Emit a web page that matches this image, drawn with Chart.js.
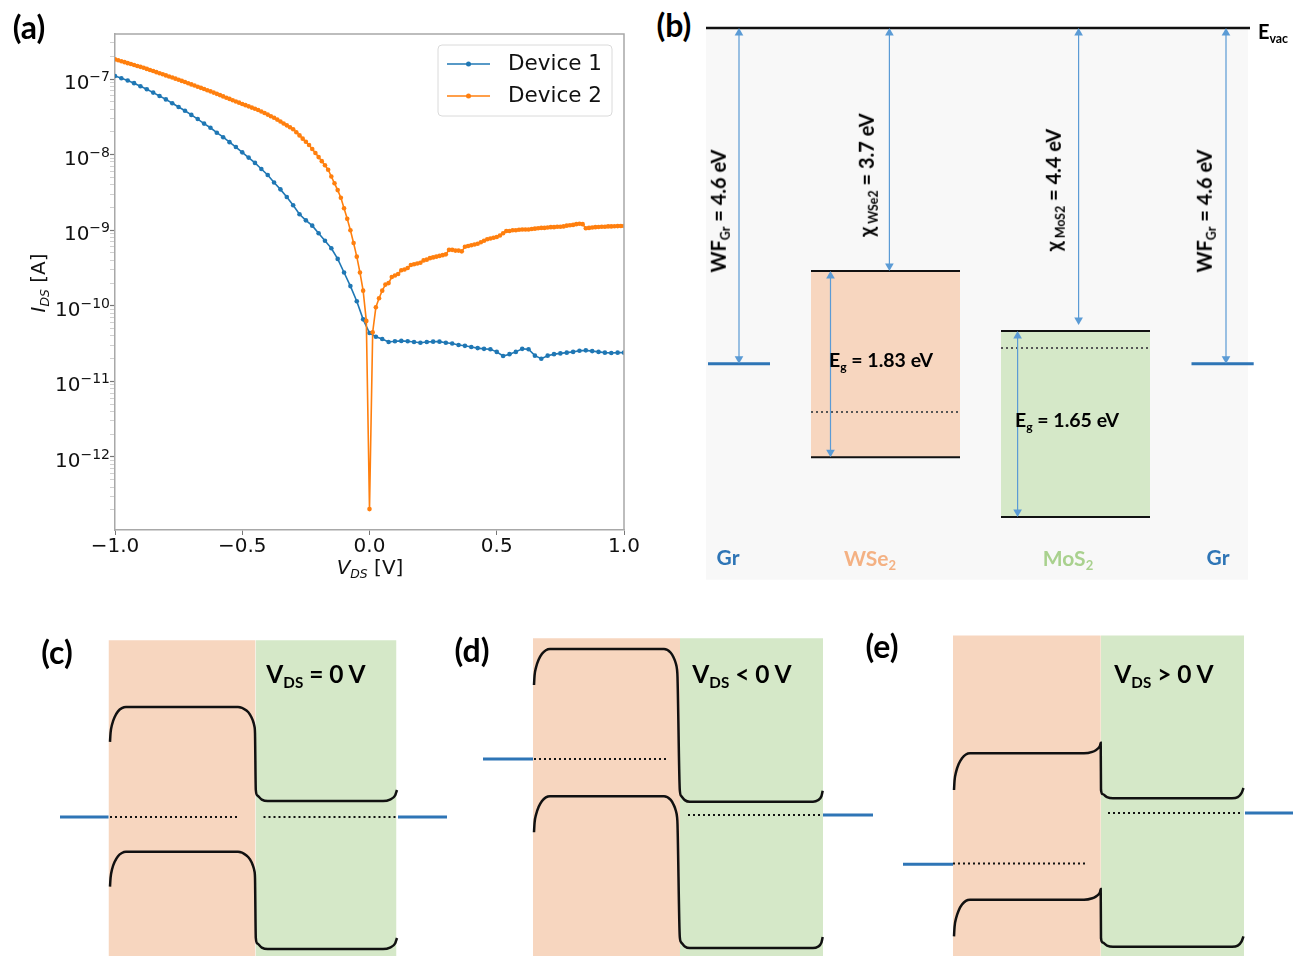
<!DOCTYPE html>
<html>
<head>
<meta charset="utf-8">
<script src="https://cdn.jsdelivr.net/npm/chart.js@4.4.1/dist/chart.umd.min.js"></script>
<style>
  body { margin: 0; background: #fff; }
  #page { position: relative; width: 1298px; height: 956px; overflow: hidden; background: #fff; }
  canvas { position: absolute; }
  .t { position: absolute; white-space: nowrap; line-height: 1; transform: translate(-50%, -50%); }
  .rot { transform: translate(-50%, -50%) rotate(-90deg); }
  .b { font-family: Lato, "Open Sans", sans-serif; font-weight: 700; color: #000; }
  .m { font-family: "DejaVu Sans", sans-serif; font-size: 20px; color: #111; }
  sub { font-size: 62%; position: relative; top: 0.3em; vertical-align: baseline; }
</style>
</head>
<body>
<div id="page">
  <canvas id="ivChart" width="650" height="590" style="left:0;top:0;width:650px;height:590px"></canvas>
  <canvas id="levelChart" width="600" height="572" style="left:700px;top:18px;width:600px;height:572px"></canvas>
  <canvas id="bandC" width="420" height="336" style="left:40px;top:620px;width:420px;height:336px"></canvas>
  <canvas id="bandD" width="420" height="336" style="left:470px;top:620px;width:420px;height:336px"></canvas>
  <canvas id="bandE" width="408" height="336" style="left:890px;top:620px;width:408px;height:336px"></canvas>
</div>
<script>
// === (a) I-V DATA : log10(I_DS / A) ===
const vStart = -1.0;
const vStep1 = 0.025;   // Device 1 sweep step [V]
const vStep2 = 0.0125;  // Device 2 sweep step [V]

const logI1 = [
  -6.96, -6.99, -7.02, -7.055, -7.095, -7.135, -7.18, -7.225, -7.27, -7.32,
  -7.37, -7.42, -7.475, -7.53, -7.59, -7.645, -7.71, -7.77, -7.835, -7.90,
  -7.97, -8.04, -8.11, -8.19, -8.27, -8.37, -8.46, -8.56, -8.67, -8.79,
  -8.87, -8.94, -9.04, -9.14, -9.24, -9.38, -9.56, -9.74, -9.94, -10.18,
  -10.36,
  -10.41, -10.44, -10.48, -10.47, -10.465, -10.47, -10.48, -10.49, -10.48, -10.475,
  -10.475, -10.49, -10.50, -10.52, -10.53, -10.545, -10.56, -10.57, -10.575, -10.61,
  -10.665, -10.64, -10.61, -10.57, -10.575, -10.66, -10.70, -10.66, -10.64, -10.63,
  -10.62, -10.61, -10.595, -10.59, -10.60, -10.61, -10.62, -10.625, -10.62, -10.62
];

const logI2 = [
  -6.740, -6.752, -6.765, -6.777, -6.790, -6.802, -6.814, -6.827, -6.839, -6.852,
  -6.866, -6.880, -6.895, -6.909, -6.923, -6.938, -6.952, -6.966, -6.981, -6.995,
  -7.010, -7.025, -7.040, -7.056, -7.071, -7.086, -7.102, -7.117, -7.132, -7.148,
  -7.163, -7.180, -7.196, -7.213, -7.230, -7.247, -7.263, -7.280, -7.297, -7.313,
  -7.330, -7.346, -7.362, -7.378, -7.394, -7.410, -7.429, -7.450, -7.471, -7.492,
  -7.513, -7.537, -7.562, -7.588, -7.613, -7.639, -7.665, -7.704, -7.746, -7.789,
  -7.831, -7.874, -7.925, -7.979, -8.033, -8.087, -8.14, -8.20, -8.29, -8.38,
  -8.47, -8.57, -8.71, -8.85, -9.00, -9.17, -9.35, -9.56, -9.80, -10.20,
  -12.69,
  -10.35, -10.02, -9.90, -9.80, -9.72, -9.70, -9.62, -9.60, -9.58, -9.53,
  -9.52, -9.50, -9.46, -9.45, -9.44, -9.43, -9.40, -9.39, -9.37, -9.36,
  -9.35, -9.34, -9.33, -9.32, -9.26, -9.26, -9.27, -9.27, -9.28, -9.22,
  -9.21, -9.20, -9.19, -9.18, -9.16, -9.14, -9.12, -9.11, -9.10, -9.09,
  -9.07, -9.04, -9.01, -9.01, -9.00, -9.00, -8.995, -8.99, -8.99, -8.99,
  -8.985, -8.98, -8.975, -8.97, -8.97, -8.965, -8.96, -8.96, -8.955, -8.955,
  -8.95, -8.94, -8.935, -8.93, -8.92, -8.915, -8.92, -8.975, -8.97, -8.965,
  -8.96, -8.958, -8.955, -8.955, -8.95, -8.95, -8.948, -8.946, -8.945, -8.944
];

const xTicks = [-1, -0.5, 0, 0.5, 1];
const xTickLabels = ["\u22121.0", "\u22120.5", "0.0", "0.5", "1.0"];
const yTickExps = [-12, -11, -10, -9, -8, -7];
const yTickLabels = ["\u221212", "\u221211", "\u221210", "\u22129", "\u22128", "\u22127"]; // exponents of 10

// === (b) BAND ALIGNMENT (labels) and drawn depths below E_vac (schematic) ===
const wfGr = 4.6, chiWSe2 = 3.7, chiMoS2 = 4.4, egWSe2 = 1.83, egMoS2 = 1.65;
const wse2Depth = [3.33, 5.88, 5.26];   // CB, VB, EF as drawn
const mos2Depth = [4.15, 6.70, 4.385];  // CB, VB, EF as drawn
const grDepth = 4.6;

// === (c)(d)(e) BAND DIAGRAMS under bias (eV, relative to right contact EF) ===
const biasText = ["V<sub>DS</sub> = 0 V", "V<sub>DS</sub> &lt; 0 V", "V<sub>DS</sub> &gt; 0 V"];
const leftContactEF = [0, 0.70, -0.64];
const wse2QuasiEF = [0, 0.70, -0.63];
const mos2QuasiEF = [0, 0, 0];
const gapWSe2 = [1.81, 1.84, 1.83];
const gapMoS2 = [1.85, 1.83, 1.855];
// conduction-band edge across Gr | WSe2 | MoS2 | Gr (position a.u., energy eV)
const cbX = [
  [1.5, 2.05, 3.64, 6.19, 9.5, 13.36, 17.5, 129.5, 138, 141.5, 144.2, 145.9, 146.5, 147.3, 148.9, 153.3, 159.3, 274.5, 281.5, 286.6, 288.5],
  [1, 1.55, 3.14, 5.69, 9, 12.86, 17, 131, 137.75, 140.5, 142.7, 144.04, 144.5, 146.8, 148.14, 151.8, 156.8, 280, 284.85, 288.4, 289.7],
  [1, 1.55, 3.14, 5.69, 9, 12.86, 17, 131, 139.35, 142.8, 145.5, 147.1, 147.7, 148.0, 149.6, 154, 160, 279, 284.75, 288.46, 290.5]
];
const cbE = [
  [0.94, 1.05, 1.16, 1.25, 1.32, 1.36, 1.375, 1.375, 1.33, 1.28, 1.21, 1.134, 1.05, 0.34, 0.269, 0.218, 0.20, 0.20, 0.218, 0.269, 0.3375],
  [1.625, 1.742, 1.85, 1.943, 2.015, 2.06, 2.075, 2.075, 2.028, 1.972, 1.90, 1.816, 1.725, 0.3125, 0.239, 0.186, 0.166, 0.166, 0.183, 0.235, 0.304],
  [0.2875, 0.406, 0.517, 0.612, 0.685, 0.731, 0.746, 0.746, 0.764, 0.785, 0.812, 0.844, 0.879, 0.2875, 0.236, 0.198, 0.184, 0.184, 0.198, 0.248, 0.313]
];

// --- colours ---
const blue = "#1f77b4", orange = "#ff7f0e";
const frameColor = "#a8a8a8";
const grBlue = "#2e75b6", arrowBlue = "#5b9bd5";
const peach = "#f7d6bf", green = "#d5e8c8";

const page = document.getElementById("page");
function addLabel(html, x, y, cls, style) {
  const d = document.createElement("div");
  d.className = "t " + cls;
  d.innerHTML = html;
  d.style.left = x + "px";
  d.style.top = y + "px";
  if (style) Object.assign(d.style, style);
  page.appendChild(d);
}

// ================= (a) =================
function toPoints(logs, step) {
  return logs.map((l, i) => ({ x: vStart + i * step, y: Math.pow(10, l) }));
}

const ivFrame = {
  id: "ivFrame",
  afterDraw(chart) {
    const { ctx, chartArea: a } = chart;
    ctx.save();
    ctx.strokeStyle = frameColor;
    ctx.lineWidth = 1.5;
    ctx.beginPath();
    ctx.moveTo(a.left, a.top);
    ctx.lineTo(a.right, a.top);
    ctx.lineTo(a.right, a.bottom);
    ctx.stroke();

    // y tick labels as 10 with a raised exponent
    const ys = chart.scales.y;
    ctx.fillStyle = "#111";
    ctx.textBaseline = "alphabetic";
    ctx.textAlign = "left";
    yTickExps.forEach((e, i) => {
      const y = ys.getPixelForValue(Math.pow(10, e));
      ctx.font = '14px "DejaVu Sans"';
      const w2 = ctx.measureText(yTickLabels[i]).width;
      ctx.font = '20px "DejaVu Sans"';
      const w1 = ctx.measureText("10").width;
      const x0 = a.left - 5 - w2 - w1;
      ctx.fillText("10", x0, y + 10);
      ctx.font = '14px "DejaVu Sans"';
      ctx.fillText(yTickLabels[i], x0 + w1, y + 2);
    });

    // legend box, matplotlib style
    const bx = a.right - 186, by = a.top + 11, bw = 174, bh = 71;
    ctx.fillStyle = "rgba(255,255,255,0.85)";
    ctx.strokeStyle = "#dadada";
    ctx.lineWidth = 1;
    ctx.beginPath();
    if (ctx.roundRect) ctx.roundRect(bx, by, bw, bh, 4); else ctx.rect(bx, by, bw, bh);
    ctx.fill();
    ctx.stroke();
    chart.data.datasets.forEach((ds, i) => {
      const y = by + 19 + 32 * i;
      ctx.strokeStyle = ds.borderColor;
      ctx.lineWidth = 1.6;
      ctx.beginPath();
      ctx.moveTo(bx + 9, y);
      ctx.lineTo(bx + 52, y);
      ctx.stroke();
      ctx.fillStyle = ds.borderColor;
      ctx.beginPath();
      ctx.arc(bx + 30.5, y, 2.5, 0, Math.PI * 2);
      ctx.fill();
      ctx.fillStyle = "#111";
      ctx.font = '21.5px "DejaVu Sans"';
      ctx.textBaseline = "middle";
      ctx.textAlign = "left";
      ctx.fillText(ds.label, bx + 70, y);
    });
    ctx.restore();
  }
};

new Chart(document.getElementById("ivChart"), {
  type: "line",
  data: {
    datasets: [
      {
        label: "Device 1", data: toPoints(logI1, vStep1), order: 2,
        borderColor: blue, backgroundColor: blue, borderWidth: 1.6,
        pointRadius: 2.3, pointBorderWidth: 0, pointBackgroundColor: blue, tension: 0
      },
      {
        label: "Device 2", data: toPoints(logI2, vStep2), order: 1,
        borderColor: orange, backgroundColor: orange, borderWidth: 1.6,
        pointRadius: 2.3, pointBorderWidth: 0, pointBackgroundColor: orange, tension: 0
      }
    ]
  },
  options: {
    responsive: false,
    animation: false,
    layout: { autoPadding: false, padding: { top: 34, right: 26, left: 0, bottom: 0 } },
    plugins: { legend: { display: false }, tooltip: { enabled: false } },
    scales: {
      x: {
        type: "linear", min: -1, max: 1,
        afterBuildTicks(s) { s.ticks = xTicks.map(v => ({ value: v })); },
        ticks: {
          autoSkip: false, maxRotation: 0, padding: 0, color: "#111",
          font: { family: "DejaVu Sans", size: 20 },
          callback(v, i) { return xTickLabels[i]; }
        },
        grid: { drawOnChartArea: false, tickLength: 5, tickColor: "#777" },
        border: { color: frameColor, width: 1.5 },
        afterFit(s) { s.height = 60; }
      },
      y: {
        type: "logarithmic", min: 1.08e-13, max: 3.94e-7,
        afterBuildTicks(s) {
          const t = [];
          for (let e = -13; e <= -7; e++) {
            for (let m = 1; m < 10; m++) {
              const v = m * Math.pow(10, e);
              if (v >= s.min && v <= s.max) t.push({ value: v, major: m === 1 });
            }
          }
          s.ticks = t;
        },
        ticks: { display: false },
        grid: {
          drawOnChartArea: false, tickLength: 5,
          tickColor: c => (c.tick && c.tick.major) ? "#777" : "#c4c4c4",
          tickWidth: c => (c.tick && c.tick.major) ? 1.2 : 0.8
        },
        border: { color: frameColor, width: 1.5 },
        afterFit(s) { s.width = 115; }
      }
    }
  },
  plugins: [ivFrame]
});

addLabel("(a)", 29, 27, "b", { fontSize: "32px" });
addLabel("<i>I</i><sub><i>DS</i></sub> [A]", 38, 283, "m rot");
addLabel("<i>V</i><sub><i>DS</i></sub> [V]", 370, 567, "m");

// ================= (b) =================
// horizontal layout of the level diagram (a.u. = px from the panel's left edge)
const bPanelW = 542, bPanelDepth = 7.56, vacW = 544;
const grLeftX = [2, 64], grRightX = [485.5, 547.7];
const wse2X = [105, 254], mos2X = [295, 444];
const wfArrowX = [33, 520], chiArrowX = [183.4, 372.6], egArrowX = [124.5, 311.6];
const bYMin = -0.137, bYMax = 7.699, bHeight = 572;
const bPxPerEV = bHeight / (bYMax - bYMin);
const headR = 5;

function seg(x0, x1, y, extra) {
  return Object.assign({
    data: [{ x: x0, y }, { x: x1, y }], pointRadius: 0,
    borderColor: "#111", borderWidth: 2, order: 1
  }, extra || {});
}
function arrow(x, yTop, yBot) {
  const off = headR / bPxPerEV;
  return {
    data: [{ x, y: yTop + off }, { x, y: yBot - off }],
    borderColor: arrowBlue, borderWidth: 1.2, order: 0,
    pointStyle: "triangle", pointRadius: headR, pointRotation: [0, 180],
    pointBackgroundColor: arrowBlue, pointBorderColor: arrowBlue, pointBorderWidth: 0
  };
}
function block(xr, yTop, yBot, color) {
  return {
    data: [{ x: xr[0], y: yBot }, { x: xr[1], y: yBot }], fill: { value: yTop },
    backgroundColor: color, borderColor: "transparent", borderWidth: 0, pointRadius: 0, order: 4
  };
}

new Chart(document.getElementById("levelChart"), {
  type: "line",
  data: {
    datasets: [
      Object.assign(block([0, bPanelW], 0, bPanelDepth, "#f8f8f8"), { order: 5 }),
      block(wse2X, wse2Depth[0], wse2Depth[1], peach),
      block(mos2X, mos2Depth[0], mos2Depth[1], green),
      seg(0, vacW, 0, { borderWidth: 2.5 }),
      seg(wse2X[0], wse2X[1], wse2Depth[0]),
      seg(wse2X[0], wse2X[1], wse2Depth[1]),
      seg(mos2X[0], mos2X[1], mos2Depth[0]),
      seg(mos2X[0], mos2X[1], mos2Depth[1]),
      seg(wse2X[0], wse2X[1], wse2Depth[2], { borderDash: [2, 3], borderColor: "#555", borderWidth: 2 }),
      seg(mos2X[0], mos2X[1], mos2Depth[2], { borderDash: [2, 3], borderColor: "#555", borderWidth: 2 }),
      seg(grLeftX[0], grLeftX[1], grDepth, { borderColor: grBlue, borderWidth: 3 }),
      seg(grRightX[0], grRightX[1], grDepth, { borderColor: grBlue, borderWidth: 3 }),
      arrow(wfArrowX[0], 0, grDepth),
      arrow(wfArrowX[1], 0, grDepth),
      arrow(chiArrowX[0], 0, wse2Depth[0]),
      arrow(chiArrowX[1], 0, mos2Depth[0] - 0.08),
      arrow(egArrowX[0], wse2Depth[0], wse2Depth[1]),
      arrow(egArrowX[1], mos2Depth[0], mos2Depth[1])
    ]
  },
  options: {
    responsive: false,
    animation: false,
    layout: { autoPadding: false, padding: 0 },
    plugins: { legend: { display: false }, tooltip: { enabled: false } },
    scales: {
      x: { type: "linear", display: false, min: -6, max: 594 },
      y: { type: "linear", display: false, reverse: true, min: bYMin, max: bYMax }
    }
  }
});

addLabel("(b)", 674, 25, "b", { fontSize: "32px" });
addLabel("E<sub>vac</sub>", 1273, 31, "b", { fontSize: "20px" });
addLabel(`WF<sub>Gr</sub> = ${wfGr} eV`, 718, 211, "b rot", { fontSize: "20px" });
addLabel(`\u03C7<sub> WSe2</sub> = ${chiWSe2} eV`, 866, 175, "b rot", { fontSize: "20px" });
addLabel(`\u03C7<sub> MoS2</sub> = ${chiMoS2} eV`, 1053, 190, "b rot", { fontSize: "20px" });
addLabel(`WF<sub>Gr</sub> = ${wfGr} eV`, 1204, 211, "b rot", { fontSize: "20px" });
addLabel(`E<sub>g</sub> = ${egWSe2} eV`, 881, 360, "b", { fontSize: "19.5px" });
addLabel(`E<sub>g</sub> = ${egMoS2} eV`, 1067, 420, "b", { fontSize: "19.5px" });
addLabel("Gr", 728, 556, "b", { fontSize: "21px", color: grBlue });
addLabel("WSe<sub>2</sub>", 870, 558, "b", { fontSize: "21px", color: "#f4b183" });
addLabel("MoS<sub>2</sub>", 1068, 558, "b", { fontSize: "21px", color: "#a9d18e" });
addLabel("Gr", 1218, 556, "b", { fontSize: "21px", color: grBlue });

// ================= (c)(d)(e) =================
const bandIds = ["bandC", "bandD", "bandE"];
const bandXMin = [-68.5, -63, -63], bandXMax = [351.5, 357, 345];
const bandYMin = [-1.7375, -1.7625, -1.7875], bandYMax = [2.4625, 2.4375, 2.4125];
const junctionX = [147, 147, 147.8], rightEdgeX = [288, 290, 291], slabTop = [2.21, 2.21, 2.22];
const wse2EFx = [[1.5, 131.5], [1, 135], [0, 135]];
const mos2EFx = [[155, 288], [155, 290], [155, 290]];
const grLX = [[-48.5, 0], [-50, 0], [-50, 0]];
const grRX = [[289.5, 338.5], [290, 340], [292, 340]];

function bandChart(p) {
  const jx = junctionX[p];
  const cb = cbX[p].map((x, i) => ({ x, y: cbE[p][i] }));
  const vb = cb.map(pt => ({ x: pt.x, y: pt.y - (pt.x <= jx ? gapWSe2[p] : gapMoS2[p]) }));
  const bandLine = data => ({
    data, borderColor: "#111", borderWidth: 2.5, pointRadius: 0,
    cubicInterpolationMode: "monotone", order: 1
  });
  const slab = (x0, x1, color) => ({
    data: [{ x: x0, y: slabTop[p] }, { x: x1, y: slabTop[p] }], fill: "start",
    backgroundColor: color, borderColor: "transparent", borderWidth: 0, pointRadius: 0, order: 5
  });
  const dotted = { borderDash: [2, 3], borderColor: "#111", borderWidth: 2 };
  new Chart(document.getElementById(bandIds[p]), {
    type: "line",
    data: {
      datasets: [
        slab(0, jx, peach),
        slab(jx, rightEdgeX[p], green),
        bandLine(cb),
        bandLine(vb),
        seg(wse2EFx[p][0], wse2EFx[p][1], wse2QuasiEF[p], dotted),
        seg(mos2EFx[p][0], mos2EFx[p][1], mos2QuasiEF[p], dotted),
        seg(grLX[p][0], grLX[p][1], leftContactEF[p], { borderColor: grBlue, borderWidth: 3 }),
        seg(grRX[p][0], grRX[p][1], 0, { borderColor: grBlue, borderWidth: 3 })
      ]
    },
    options: {
      responsive: false,
      animation: false,
      layout: { autoPadding: false, padding: 0 },
      plugins: { legend: { display: false }, tooltip: { enabled: false } },
      scales: {
        x: { type: "linear", display: false, min: bandXMin[p], max: bandXMax[p] },
        y: { type: "linear", display: false, min: bandYMin[p], max: bandYMax[p] }
      }
    }
  });
}
[0, 1, 2].forEach(bandChart);

addLabel("(c)", 57, 652, "b", { fontSize: "32px" });
addLabel("(d)", 472, 650, "b", { fontSize: "32px" });
addLabel("(e)", 882, 646, "b", { fontSize: "32px" });
addLabel(biasText[0], 316, 674, "b", { fontSize: "24.5px" });
addLabel(biasText[1], 742, 674, "b", { fontSize: "24.5px" });
addLabel(biasText[2], 1164, 674, "b", { fontSize: "24.5px" });
</script>
</body>
</html>
